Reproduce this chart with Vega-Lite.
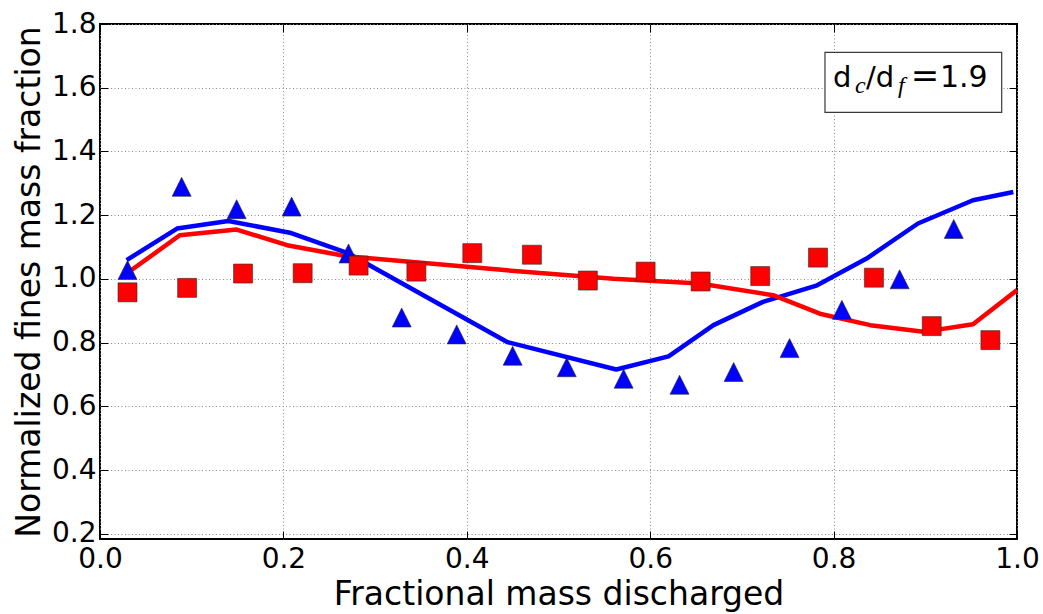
{
  "$schema": "https://vega.github.io/schema/vega-lite/v6.json",
  "width": 917,
  "height": 515,
  "autosize": {"type": "none"},
  "padding": {"left": 100, "top": 24, "right": 26, "bottom": 75},
  "background": "white",
  "datasets": {
    "curves": [
      {"series": "S1", "x": 0.029, "y": 1.059},
      {"series": "S1", "x": 0.084, "y": 1.158},
      {"series": "S1", "x": 0.140, "y": 1.182},
      {"series": "S1", "x": 0.207, "y": 1.145},
      {"series": "S1", "x": 0.271, "y": 1.080},
      {"series": "S1", "x": 0.444, "y": 0.802},
      {"series": "S1", "x": 0.563, "y": 0.716},
      {"series": "S1", "x": 0.620, "y": 0.757},
      {"series": "S1", "x": 0.669, "y": 0.855},
      {"series": "S1", "x": 0.723, "y": 0.928},
      {"series": "S1", "x": 0.782, "y": 0.980},
      {"series": "S1", "x": 0.836, "y": 1.064},
      {"series": "S1", "x": 0.892, "y": 1.174},
      {"series": "S1", "x": 0.952, "y": 1.247},
      {"series": "S1", "x": 0.996, "y": 1.273},
      {"series": "S2", "x": 0.029, "y": 1.017},
      {"series": "S2", "x": 0.087, "y": 1.137},
      {"series": "S2", "x": 0.149, "y": 1.155},
      {"series": "S2", "x": 0.204, "y": 1.106},
      {"series": "S2", "x": 0.269, "y": 1.071},
      {"series": "S2", "x": 0.444, "y": 1.027},
      {"series": "S2", "x": 0.560, "y": 1.001},
      {"series": "S2", "x": 0.654, "y": 0.986},
      {"series": "S2", "x": 0.734, "y": 0.949},
      {"series": "S2", "x": 0.785, "y": 0.891},
      {"series": "S2", "x": 0.840, "y": 0.855},
      {"series": "S2", "x": 0.898, "y": 0.834},
      {"series": "S2", "x": 0.952, "y": 0.858},
      {"series": "S2", "x": 1.000, "y": 0.965}
    ],
    "points": [
      {"series": "S1", "x": 0.030, "y": 1.028},
      {"series": "S1", "x": 0.089, "y": 1.289},
      {"series": "S1", "x": 0.149, "y": 1.219},
      {"series": "S1", "x": 0.209, "y": 1.227},
      {"series": "S1", "x": 0.271, "y": 1.080},
      {"series": "S1", "x": 0.329, "y": 0.879},
      {"series": "S1", "x": 0.389, "y": 0.826},
      {"series": "S1", "x": 0.450, "y": 0.759},
      {"series": "S1", "x": 0.509, "y": 0.723},
      {"series": "S1", "x": 0.571, "y": 0.687},
      {"series": "S1", "x": 0.632, "y": 0.668},
      {"series": "S1", "x": 0.691, "y": 0.708},
      {"series": "S1", "x": 0.752, "y": 0.783},
      {"series": "S1", "x": 0.809, "y": 0.903},
      {"series": "S1", "x": 0.872, "y": 0.999},
      {"series": "S1", "x": 0.931, "y": 1.157},
      {"series": "S2", "x": 0.030, "y": 0.958},
      {"series": "S2", "x": 0.095, "y": 0.972},
      {"series": "S2", "x": 0.156, "y": 1.017},
      {"series": "S2", "x": 0.221, "y": 1.018},
      {"series": "S2", "x": 0.282, "y": 1.042},
      {"series": "S2", "x": 0.345, "y": 1.023},
      {"series": "S2", "x": 0.406, "y": 1.081},
      {"series": "S2", "x": 0.471, "y": 1.076},
      {"series": "S2", "x": 0.532, "y": 0.995},
      {"series": "S2", "x": 0.595, "y": 1.023},
      {"series": "S2", "x": 0.655, "y": 0.992},
      {"series": "S2", "x": 0.720, "y": 1.009},
      {"series": "S2", "x": 0.783, "y": 1.067},
      {"series": "S2", "x": 0.844, "y": 1.004},
      {"series": "S2", "x": 0.907, "y": 0.852},
      {"series": "S2", "x": 0.971, "y": 0.808}
    ]
  },
  "layer": [
    {
      "data": {"name": "curves"},
      "mark": {"type": "line", "strokeWidth": 4.5, "strokeJoin": "round"},
      "encoding": {
        "x": {
          "field": "x", "type": "quantitative",
          "scale": {"domain": [0, 1], "nice": false, "zero": false},
          "axis": {
            "orient": "bottom", "title": "Fractional mass discharged",
            "values": [0, 0.2, 0.4, 0.6, 0.8, 1.0], "format": ".1f",
            "grid": true, "labelPadding": 14, "titlePadding": 5,
            "labelFlush": false, "labelOverlap": false
          }
        },
        "y": {
          "field": "y", "type": "quantitative",
          "scale": {"domain": [0.184, 1.8], "nice": false, "zero": false},
          "axis": {
            "orient": "left", "title": "Normalized fines mass fraction",
            "values": [0.2, 0.4, 0.6, 0.8, 1.0, 1.2, 1.4, 1.6, 1.8], "format": ".1f",
            "grid": true, "labelPadding": 12, "titlePadding": 5,
            "labelFlush": false, "labelOverlap": false
          }
        },
        "color": {
          "field": "series", "type": "nominal",
          "scale": {"domain": ["S1", "S2"], "range": ["#0000ff", "#ff0000"]},
          "legend": null
        }
      }
    },
    {
      "data": {"name": "points"},
      "mark": {"type": "point", "filled": true, "opacity": 1, "size": 361, "stroke": "#2a2a2a", "strokeWidth": 0.6},
      "encoding": {
        "x": {"field": "x", "type": "quantitative", "axis": null},
        "y": {"field": "y", "type": "quantitative", "axis": null},
        "color": {"field": "series", "type": "nominal", "legend": null},
        "shape": {
          "field": "series", "type": "nominal",
          "scale": {"domain": ["S1", "S2"], "range": ["M0,-1L1,1L-1,1Z", "square"]},
          "legend": null
        }
      }
    },
    {
      "data": {"name": "points"},
      "mark": {"type": "point", "opacity": 0},
      "encoding": {
        "x": {
          "field": "x", "type": "quantitative",
          "axis": {"orient": "top", "title": null, "labels": false, "grid": false,
                   "values": [0, 0.2, 0.4, 0.6, 0.8, 1.0]}
        },
        "y": {
          "field": "y", "type": "quantitative",
          "axis": {"orient": "right", "title": null, "labels": false, "grid": false,
                   "values": [0.2, 0.4, 0.6, 0.8, 1.0, 1.2, 1.4, 1.6, 1.8]}
        }
      }
    },
    {
      "data": {"values": [{}]},
      "mark": {"type": "rect", "fill": "white", "stroke": "#3a3a3a", "strokeWidth": 1.2},
      "encoding": {
        "x": {"datum": 0.7906, "type": "quantitative", "axis": null},
        "x2": {"datum": 0.9833},
        "y": {"datum": 1.711, "type": "quantitative", "axis": null},
        "y2": {"datum": 1.523}
      }
    },
    {
      "data": {"values": [{}]},
      "mark": {"type": "text", "text": "d", "font": "DejaVu Sans", "fontSize": 29, "align": "left", "baseline": "alphabetic", "color": "black"},
      "encoding": {
        "x": {"datum": 0.7993, "type": "quantitative", "axis": null},
        "y": {"datum": 1.6033, "type": "quantitative", "axis": null}
      }
    },
    {
      "data": {"values": [{}]},
      "mark": {"type": "text", "text": "c", "font": "Liberation Serif", "fontStyle": "italic", "fontSize": 24, "align": "left", "baseline": "alphabetic", "color": "black"},
      "encoding": {
        "x": {"datum": 0.8234, "type": "quantitative", "axis": null},
        "y": {"datum": 1.5835, "type": "quantitative", "axis": null}
      }
    },
    {
      "data": {"values": [{}]},
      "mark": {"type": "text", "text": "/d", "font": "DejaVu Sans", "fontSize": 29, "align": "left", "baseline": "alphabetic", "color": "black"},
      "encoding": {
        "x": {"datum": 0.8353, "type": "quantitative", "axis": null},
        "y": {"datum": 1.6033, "type": "quantitative", "axis": null}
      }
    },
    {
      "data": {"values": [{}]},
      "mark": {"type": "text", "text": "f", "font": "Liberation Serif", "fontStyle": "italic", "fontSize": 24, "align": "left", "baseline": "alphabetic", "color": "black"},
      "encoding": {
        "x": {"datum": 0.8702, "type": "quantitative", "axis": null},
        "y": {"datum": 1.5835, "type": "quantitative", "axis": null}
      }
    },
    {
      "data": {"values": [{}]},
      "mark": {"type": "text", "text": "=", "font": "DejaVu Sans", "fontSize": 34, "align": "center", "baseline": "alphabetic", "color": "black"},
      "encoding": {
        "x": {"datum": 0.8997, "type": "quantitative", "axis": null},
        "y": {"datum": 1.6033, "type": "quantitative", "axis": null}
      }
    },
    {
      "data": {"values": [{}]},
      "mark": {"type": "text", "text": "1.9", "font": "DejaVu Sans", "fontSize": 30, "align": "left", "baseline": "alphabetic", "color": "black"},
      "encoding": {
        "x": {"datum": 0.9160, "type": "quantitative", "axis": null},
        "y": {"datum": 1.6033, "type": "quantitative", "axis": null}
      }
    }
  ],
  "resolve": {"axis": {"x": "independent", "y": "independent"}},
  "config": {
    "view": {"stroke": "black", "strokeWidth": 2},
    "axis": {
      "labelFont": "DejaVu Sans",
      "labelFontSize": 28,
      "labelColor": "black",
      "titleFont": "DejaVu Sans",
      "titleFontSize": 33,
      "titleFontWeight": "normal",
      "titleColor": "black",
      "domain": false,
      "ticks": true,
      "tickColor": "black",
      "tickSize": -8,
      "tickWidth": 1,
      "gridColor": "#8c8c8c",
      "gridDash": [1, 2.5],
      "gridWidth": 1
    }
  }
}
